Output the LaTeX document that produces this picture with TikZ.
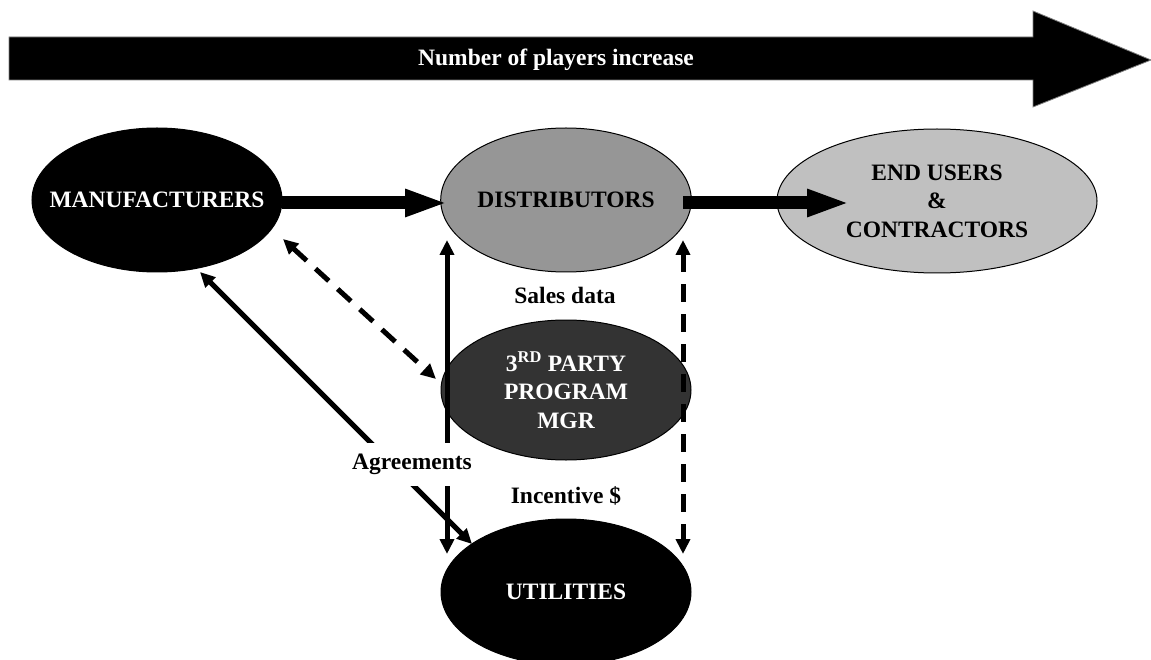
\documentclass[tikz,border=0pt]{standalone}
\usepackage{fontspec}
\setmainfont{Liberation Serif}
\usetikzlibrary{shapes.geometric,arrows.meta}
\definecolor{distgray}{HTML}{969696}
\definecolor{endgray}{HTML}{C0C0C0}
\definecolor{mgrgray}{HTML}{333333}
\tikzset{
  oval/.style={ellipse, draw=black, line width=1pt, inner sep=0pt,
    minimum width=250pt, minimum height=144pt, align=center,
    font=\fontsize{23.5}{28.5}\selectfont\bfseries},
  thickarrow/.style={line width=13pt, -{Triangle[length=43pt,width=25pt]}},
  thinarrow/.style={line width=5pt, {Triangle[length=15pt,width=14pt]}-{Triangle[length=15pt,width=14pt]}},
  dasharrow/.style={thinarrow, dash pattern=on 18pt off 12pt},
  lbl/.style={font=\fontsize{23.5}{28.5}\selectfont\bfseries, inner sep=0pt}
}
\begin{document}
\begin{tikzpicture}[x=1pt,y=-1pt]
\useasboundingbox (0,0) rectangle (1151,660);
\clip (0,0) rectangle (1151,660);
% big arrow
\draw[fill=black, draw=gray, line width=0.8pt]
  (9,37) -- (1033,37) -- (1033,11) -- (1151,60) -- (1033,107) -- (1033,80) -- (9,80) -- cycle;
\node[lbl, text=white] (title) at (556,60) {Number of players increase};
% nodes
\node[oval, fill=black, text=white, inner xsep=-20pt] (man) at (157,200) {MANUFACTURERS};
\node[oval, fill=distgray, text=black] (dist) at (566,200) {DISTRIBUTORS};
\node[oval, fill=endgray, text=black, minimum width=320pt] (end) at (937,201) {END USERS\\\&\\CONTRACTORS};
\node[oval, fill=mgrgray, text=white, minimum height=140pt] (mgr) at (566,390) {3\textsuperscript{RD} PARTY\\PROGRAM\\MGR};
\node[oval, fill=black, text=white, minimum height=146pt] (util) at (566,592) {UTILITIES};
% coordinates
\coordinate (mE) at (282,203);
\coordinate (dW) at (448,203);
\coordinate (dE) at (683,203);
\coordinate (eIn) at (850,203);
\coordinate (dBL) at (447,240);
\coordinate (uTL) at (447,554);
\coordinate (dBR) at (683,240);
\coordinate (uTR) at (683,554);
\coordinate (mR) at (283,239);
\coordinate (gL) at (436,379);
\coordinate (mB) at (200,272);
\coordinate (uL) at (472,544);
% connectors
\draw[thickarrow] (mE) -- (dW);
\draw[thickarrow] (dE) -- (eIn);
\draw[thinarrow] (dBL) -- (uTL);
\draw[dasharrow] (dBR) -- (uTR);
\draw[dasharrow] (mR) -- (gL);
\draw[thinarrow] (mB) -- (uL);
% labels
\node[lbl] (sales) at (565,295) {Sales data};
\node[lbl] (inc) at (566,496) {Incentive \$};
\node[lbl, fill=white, minimum height=43pt, inner xsep=3pt] (agr) at (412,464) {Agreements};
\end{tikzpicture}
\end{document}
